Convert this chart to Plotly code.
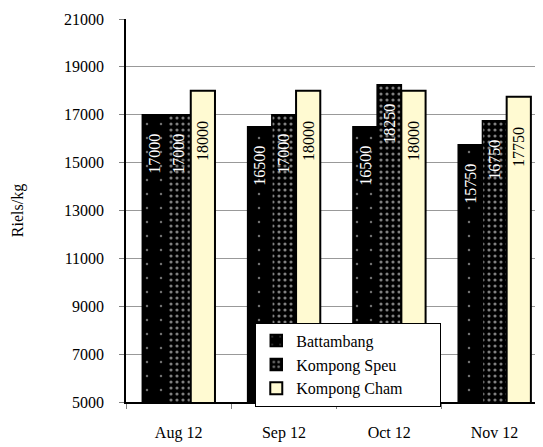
import plotly.graph_objects as go

categories = ["Aug 12", "Sep 12", "Oct 12", "Nov 12"]
battambang = [17000, 16500, 16500, 15750]
kompong_speu = [17000, 17000, 18250, 16750]
kompong_cham = [18000, 18000, 18000, 17750]
y_ticks = list(range(5000, 21001, 2000))
y_tick_labels = [str(v) for v in y_ticks]

FONT = "Liberation Serif"
PAD_DARK = "\u2003"
PAD_LIGHT = "\u2003\u2002\u2009"
NB = "\u00a0"

fig = go.Figure()
fig.add_trace(go.Bar(
    name="Battambang", x=categories, y=battambang,
    text=[f"{v}" + PAD_DARK for v in battambang], textposition="inside",
    insidetextanchor="end", textangle=-90,
    insidetextfont=dict(family=FONT, size=16, color="white"),
    marker=dict(color="black", line=dict(color="black", width=1.5),
                pattern=dict(shape=".", bgcolor="black", fgcolor="#dddddd",
                             size=14, solidity=0.025, fillmode="overlay")),
    legendgroup="a",
))
fig.add_trace(go.Bar(
    name="Kompong Speu", x=categories, y=kompong_speu,
    text=[f"{v}" + PAD_DARK for v in kompong_speu], textposition="inside",
    insidetextanchor="end", textangle=-90,
    insidetextfont=dict(family=FONT, size=16, color="white"),
    marker=dict(color="black", line=dict(color="black", width=1.5),
                pattern=dict(shape=".", bgcolor="black", fgcolor="white",
                             size=6, solidity=0.22, fillmode="overlay")),
    legendgroup="b",
))
fig.add_trace(go.Bar(
    name="Kompong Cham" + NB * 8, x=categories, y=kompong_cham,
    text=[f"{v}" + PAD_LIGHT for v in kompong_cham], textposition="inside",
    insidetextanchor="end", textangle=-90,
    insidetextfont=dict(family=FONT, size=16, color="black"),
    marker=dict(color="#FFFAD2", line=dict(color="black", width=2)),
    legendgroup="c",
))

# page body has an 8px default margin; figure sized so the plot lands as in the reference
fig.update_layout(
    width=535, height=439,
    margin=dict(l=118, r=0, t=11, b=45, autoexpand=False),
    paper_bgcolor="white", plot_bgcolor="white",
    barmode="group", bargap=0.31, bargroupgap=0,
    font=dict(family=FONT, size=16, color="black"),
    showlegend=True,
    legend=dict(
        x=0.31, y=0.207, xanchor="left", yanchor="top",
        bgcolor="white", bordercolor="black", borderwidth=1,
        font=dict(family=FONT, size=16, color="black"),
        traceorder="grouped", tracegroupgap=0,
        itemwidth=30,
    ),
    uniformtext=dict(mode=False),
)
fig.update_xaxes(
    range=[-0.5, 3.46], tickson="boundaries", ticks="outside", ticklen=5,
    tickcolor="#808080", showline=True, linecolor="black", linewidth=1.5,
    ticklabelstandoff=15, showgrid=False, automargin=False,
    tickfont=dict(family=FONT, size=16),
)
fig.update_yaxes(
    range=[5000, 21000], tickvals=y_ticks, ticktext=y_tick_labels,
    ticks="outside", ticklen=5, automargin=False,
    tickcolor="#808080", showline=True, linecolor="black", linewidth=1.5,
    ticklabelstandoff=12,
    showgrid=True, gridcolor="#999999", gridwidth=1,
    tickfont=dict(family=FONT, size=16),
    title=dict(text="Riels/kg", font=dict(family=FONT, size=16), standoff=36),
)
fig.write_html("out.html")
